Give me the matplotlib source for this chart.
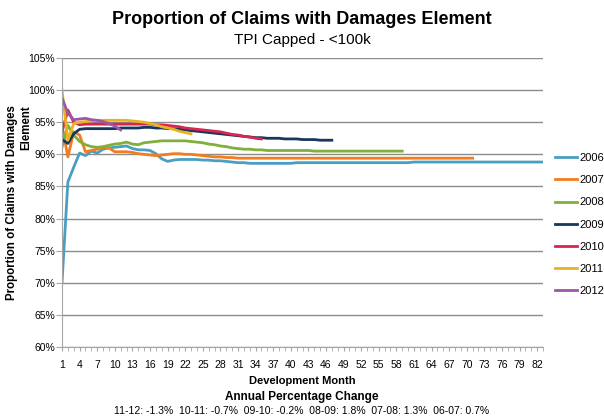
import matplotlib
matplotlib.use("Agg")
import matplotlib.pyplot as plt
from matplotlib.ticker import MultipleLocator, FixedLocator, FuncFormatter

plt.rcParams['font.family'] = ['Liberation Sans', 'DejaVu Sans']

# values, % of claims with damages element by development month
y2006 = [70.0, 85.7, 88.0, 90.2, 89.8, 90.5, 90.2, 90.8, 91.0, 91.1,
         91.2, 91.3, 90.9, 90.7, 90.7, 90.6, 90.1, 89.3, 88.9, 89.1,
         89.2, 89.2, 89.2, 89.2, 89.1, 89.1, 89.0, 89.0, 88.9, 88.8,
         88.7, 88.7, 88.6, 88.6, 88.6, 88.6, 88.6, 88.6, 88.6, 88.6,
         88.7, 88.7, 88.7, 88.7, 88.7, 88.7, 88.7, 88.7, 88.7, 88.7,
         88.7, 88.7, 88.7, 88.7, 88.7, 88.7, 88.7, 88.7, 88.7, 88.7,
         88.8, 88.8, 88.8, 88.8, 88.8, 88.8, 88.8, 88.8, 88.8, 88.8,
         88.8, 88.8, 88.8, 88.8, 88.8, 88.8, 88.8, 88.8, 88.8, 88.8,
         88.8, 88.8, 88.8]
y2007 = [94.5, 89.6, 93.5, 93.0, 90.4, 90.6, 90.8, 91.1, 91.0, 90.4,
         90.4, 90.4, 90.3, 90.1, 90.0, 89.9, 89.8, 89.9, 90.0, 90.1,
         90.1, 90.0, 90.0, 89.9, 89.8, 89.7, 89.6, 89.6, 89.5, 89.5,
         89.4, 89.4, 89.4, 89.4, 89.4, 89.4, 89.4, 89.4, 89.4, 89.4,
         89.4, 89.4, 89.4, 89.4, 89.4, 89.4, 89.4, 89.4, 89.4, 89.4,
         89.4, 89.4, 89.4, 89.4, 89.4, 89.4, 89.4, 89.4, 89.4, 89.4,
         89.4, 89.4, 89.4, 89.4, 89.4, 89.4, 89.4, 89.4, 89.4, 89.4,
         89.4]
y2008 = [91.1, 94.5, 93.0, 92.0, 91.5, 91.2, 91.1, 91.2, 91.4, 91.6,
         91.7, 91.9, 91.6, 91.5, 91.8, 91.9, 92.0, 92.1, 92.1, 92.1,
         92.1, 92.1, 92.0, 91.9, 91.8, 91.6, 91.5, 91.3, 91.2, 91.0,
         90.9, 90.8, 90.8, 90.7, 90.7, 90.6, 90.6, 90.6, 90.6, 90.6,
         90.6, 90.6, 90.6, 90.5, 90.5, 90.5, 90.5, 90.5, 90.5, 90.5,
         90.5, 90.5, 90.5, 90.5, 90.5, 90.5, 90.5, 90.5, 90.5]
y2009 = [92.3, 91.7, 93.2, 93.9, 94.0, 94.0, 94.0, 94.0, 94.0, 94.0,
         94.1, 94.1, 94.1, 94.1, 94.2, 94.2, 94.1, 94.1, 94.0, 94.0,
         93.9, 93.8, 93.7, 93.6, 93.5, 93.4, 93.3, 93.2, 93.1, 93.0,
         92.9, 92.8, 92.7, 92.6, 92.6, 92.5, 92.5, 92.5, 92.4, 92.4,
         92.4, 92.3, 92.3, 92.3, 92.2, 92.2, 92.2]
y2010 = [93.5, 96.9, 95.0, 94.6, 94.7, 94.7, 94.7, 94.7, 94.7, 94.7,
         94.7, 94.7, 94.7, 94.7, 94.7, 94.7, 94.6, 94.6, 94.5, 94.4,
         94.3, 94.1, 94.0, 93.9, 93.8, 93.7, 93.6, 93.5, 93.3, 93.1,
         93.0, 92.8, 92.7, 92.5, 92.4]
y2011 = [100.0, 92.2, 94.8, 95.0, 95.1, 95.2, 95.3, 95.3, 95.3, 95.3,
         95.3, 95.3, 95.2, 95.1, 95.0, 94.8, 94.6, 94.3, 94.1, 93.9,
         93.6, 93.4, 93.2]
y2012 = [98.8, 96.4, 95.4, 95.5, 95.6, 95.4, 95.3, 95.1, 94.8, 94.4,
         93.8]

years = ['2006', '2007', '2008', '2009', '2010', '2011', '2012']
series = [y2006, y2007, y2008, y2009, y2010, y2011, y2012]
colors = ['#4A9EC2', '#F47C20', '#80AF3A', '#17375E', '#D7264F', '#E8B320', '#9B58A8']
changes = "11-12: -1.3%  10-11: -0.7%  09-10: -0.2%  08-09: 1.8%  07-08: 1.3%  06-07: 0.7%"

fig = plt.figure(figsize=(6.04, 4.19), dpi=100)
ax = fig.add_axes([62/604, 1-347/419, (543-62)/604, (347-58)/419])

for yr, vals, c in zip(years, series, colors):
    months = list(range(1, len(vals) + 1))
    ax.plot(months, vals, color=c, lw=2.0, label=yr, solid_joinstyle='round')

ax.set_xlim(1, 83)
ax.set_ylim(60, 105)
ax.yaxis.set_major_locator(MultipleLocator(5))
ax.yaxis.set_major_formatter(FuncFormatter(lambda v, p: '%d%%' % v))
ax.xaxis.set_major_locator(FixedLocator(list(range(1, 83, 3))))
ax.xaxis.set_minor_locator(FixedLocator(list(range(1, 84))))
ax.grid(axis='y', color='#8c8c8c', lw=1)
ax.set_axisbelow(True)
for s in ['top', 'right']:
    ax.spines[s].set_visible(False)
for s in ['left', 'bottom']:
    ax.spines[s].set_color('#a6a6a6')
ax.tick_params(axis='y', length=4, color='#a6a6a6', labelsize=7.5, pad=1)
ax.tick_params(axis='x', which='both', length=3, color='#a6a6a6', labelsize=7.5, pad=6)

ax.set_xlabel('Development Month', fontsize=8, fontweight='bold', labelpad=5)
ax.set_ylabel('Proportion of Claims with Damages\nElement', fontsize=8.3,
              fontweight='bold', multialignment='right')
ax.yaxis.set_label_coords(-0.062, 0.5)

fig.text(0.5, 1-20/419, 'Proportion of Claims with Damages Element', ha='center',
         va='center', fontsize=13, fontweight='bold')
fig.text(0.5, 1-40/419, 'TPI Capped - <100k', ha='center', va='center', fontsize=11)
fig.text(0.5, 1-397/419, 'Annual Percentage Change', ha='center', va='center',
         fontsize=8.5, fontweight='bold')
fig.text(0.5, 1-411/419, changes, ha='center', va='center', fontsize=7.5)

fig.legend(loc='upper left', bbox_to_anchor=(555/604, 1-153/419), frameon=False,
           fontsize=8, handlelength=2.0, handletextpad=0.2, labelspacing=1.1,
           borderpad=0, borderaxespad=0)

fig.savefig('out.png', dpi=100)
